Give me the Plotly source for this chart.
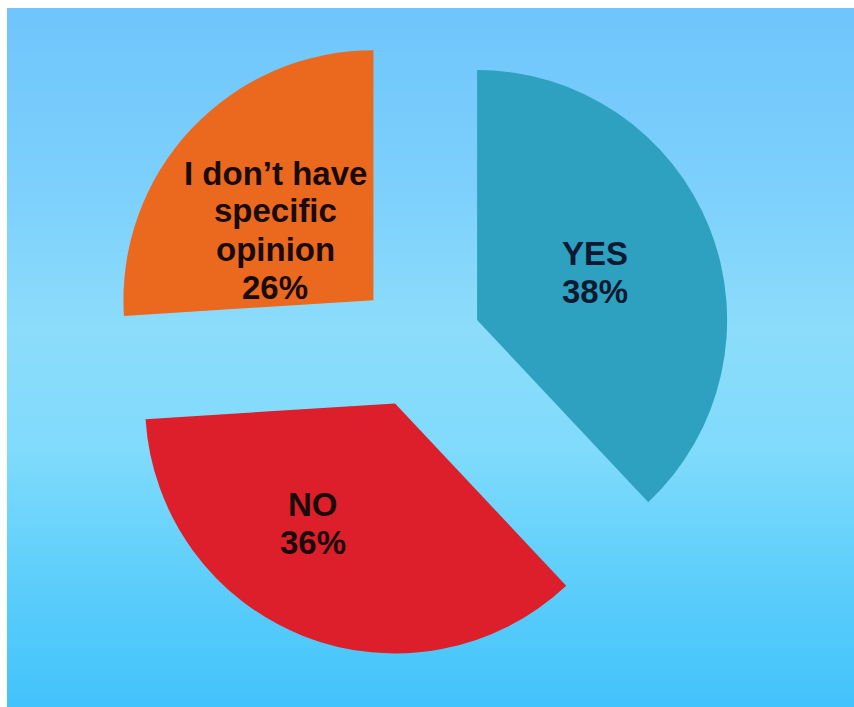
import plotly.graph_objects as go

# Survey answers and their shares (%)
labels = ["YES", "NO", "I don’t have<br>specific<br>opinion"]
values = [38, 36, 26]
slice_colors = ["#2ea1c1", "#dc1f2a", "#ea691e"]
text_colors = ["#0b1a30", "#1a0b0b", "#1a0b0b"]
slice_pull = [0.25, 0.26, 0.25]

W, H = 854, 707
LEFT_GAP, TOP_GAP = 7, 8

# pie centre and radius in pixels; the domain is sized so the pulled slices fit
PIE_CX, PIE_CY, PIE_R = 419, 343, 250
half = PIE_R * (1 + max(slice_pull))

# label block centres inside each slice (pixels) and line pitch
label_centres = [(595, 272), (313, 523), (275, 230)]
LINE_PITCH = 38
LABEL_FONT = dict(family="Liberation Sans, Arial, sans-serif", size=33, weight="bold")

# vertical background gradient stops: (pixel y, colour)
grad_stops = [
    (8, (0x6f, 0xc5, 0xfc)),
    (200, (0x7e, 0xd1, 0xfc)),
    (330, (0x8c, 0xdc, 0xfb)),
    (450, (0x80, 0xdb, 0xfc)),
    (580, (0x5d, 0xce, 0xfb)),
    (707, (0x42, 0xc3, 0xfb)),
]


def grad_color(y):
    for (y0, c0), (y1, c1) in zip(grad_stops[:-1], grad_stops[1:]):
        if y0 <= y <= y1:
            t = (y - y0) / (y1 - y0)
            r, g, b = (round(a + (bb - a) * t) for a, bb in zip(c0, c1))
            return f"rgb({r},{g},{b})"
    return "rgb(66,195,251)"


shapes = []
step = 4
y = TOP_GAP
while y < H:
    y_end = min(y + step, H)
    shapes.append(dict(
        type="rect", xref="paper", yref="paper", layer="below",
        x0=LEFT_GAP / W, x1=1, y0=1 - y_end / H, y1=1 - y / H,
        fillcolor=grad_color((y + y_end) / 2), line=dict(width=0),
    ))
    y = y_end

fig = go.Figure(go.Pie(
    labels=labels,
    values=values,
    sort=False,
    direction="clockwise",
    rotation=0,
    pull=slice_pull,
    marker=dict(colors=slice_colors, line=dict(width=0)),
    textinfo="none",
    hoverinfo="label+percent",
    domain=dict(
        x=[(PIE_CX - half) / W, (PIE_CX + half) / W],
        y=[1 - (PIE_CY + half) / H, 1 - (PIE_CY - half) / H],
    ),
    showlegend=False,
))

# slice labels: category name lines followed by the share
annotations = []
for lab, val, col, (cx, cy) in zip(labels, values, text_colors, label_centres):
    lines = lab.split("<br>") + [f"{val}%"]
    n = len(lines)
    for i, line in enumerate(lines):
        py = cy + (i - (n - 1) / 2) * LINE_PITCH
        annotations.append(dict(
            x=cx / W, y=1 - py / H, xref="paper", yref="paper",
            text=line, showarrow=False, xanchor="center", yanchor="middle",
            font=dict(color=col, **LABEL_FONT),
        ))

fig.update_layout(
    width=W, height=H,
    margin=dict(l=0, r=0, t=0, b=0),
    paper_bgcolor="white",
    shapes=shapes,
    annotations=annotations,
)

fig.write_html("out.html")
